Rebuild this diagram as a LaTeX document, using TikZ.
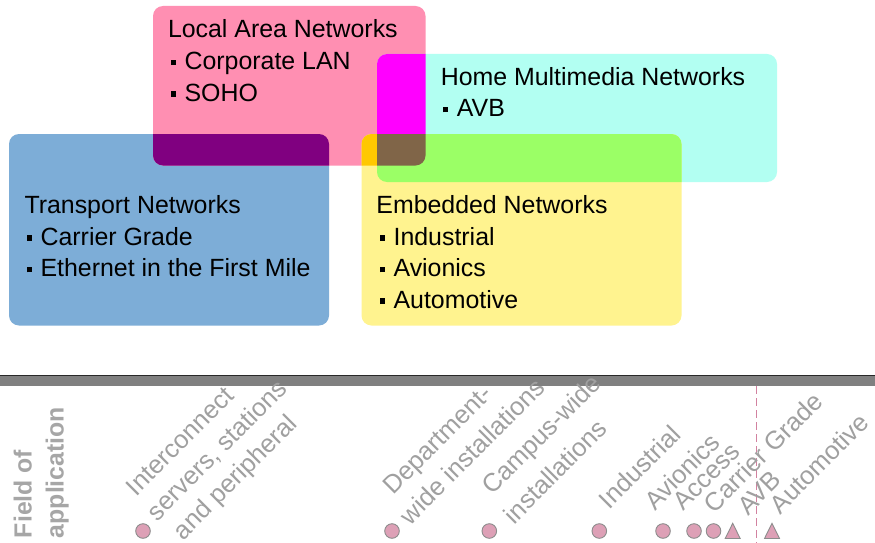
\documentclass[tikz,border=0pt]{standalone}
\usepackage{fontspec}
\setmainfont{Liberation Sans}
\definecolor{cpink}{RGB}{255,143,178}
\definecolor{cblue}{RGB}{125,173,215}
\definecolor{ccyan}{RGB}{178,255,242}
\definecolor{cyel}{RGB}{255,243,143}
\definecolor{cpur}{RGB}{128,0,128}
\definecolor{cmag}{RGB}{255,0,255}
\definecolor{cgold}{RGB}{255,200,0}
\definecolor{cgreen}{RGB}{155,255,102}
\definecolor{cbrown}{RGB}{128,101,72}
\definecolor{labgray}{RGB}{160,160,160}
\definecolor{fieldgray}{RGB}{166,166,166}
\definecolor{markfill}{RGB}{221,160,182}
\definecolor{markline}{RGB}{140,140,140}
\definecolor{dashpink}{RGB}{210,130,160}
\definecolor{bandgray}{RGB}{128,128,128}
\definecolor{bardark}{RGB}{40,40,40}
\newcommand{\bul}{\rule[4.3pt]{4.6pt}{5.6pt}\hspace{9pt}}
\begin{document}
\begin{tikzpicture}[x=1pt,y=1pt,
  box/.style={rectangle, rounded corners=10pt, inner sep=0pt, outer sep=0pt, draw=none},
  txt/.style={anchor=base west, inner sep=0pt, outer sep=0pt, font=\fontsize{24.9}{29}\selectfont, text=black},
  lab/.style={anchor=base west, inner sep=0pt, outer sep=0pt, rotate=45, font=\fontsize{25.5}{29}\selectfont, text=labgray},
  field/.style={anchor=base west, inner sep=0pt, outer sep=0pt, rotate=90, font=\fontsize{24.8}{29}\selectfont\bfseries, text=fieldgray},
  circmark/.style={circle, minimum size=14.6pt, inner sep=0pt, fill=markfill, draw=markline, line width=0.9pt},
  trimark/.style={fill=markfill, draw=markline, line width=0.9pt, line join=miter}
]
\useasboundingbox (0,0) rectangle (875,-543);
\fill[white] (0,0) rectangle (875,-543);

% base boxes
\node[box, fill=cblue, minimum width=320pt, minimum height=191.5pt] (tra) at (169,-229.75) {};
\node[box, fill=cpink, minimum width=272.5pt, minimum height=159.5pt] (lan) at (289.25,-85.75) {};
\node[box, fill=ccyan, minimum width=400pt, minimum height=128pt] (hom) at (577,-118) {};
\node[box, fill=cyel, minimum width=320pt, minimum height=191.5pt] (emb) at (521.5,-229.75) {};

% overlaps
\begin{scope}
  \clip[rounded corners=10pt] (lan.south west) rectangle (lan.north east);
  \fill[cpur, rounded corners=10pt] (tra.south west) rectangle (tra.north east);
  \fill[cmag, rounded corners=10pt] (hom.south west) rectangle (hom.north east);
  \fill[cgold, rounded corners=10pt] (emb.south west) rectangle (emb.north east);
\end{scope}
\begin{scope}
  \clip[rounded corners=10pt] (hom.south west) rectangle (hom.north east);
  \fill[cgreen, rounded corners=10pt] (emb.south west) rectangle (emb.north east);
  \clip[rounded corners=10pt] (emb.south west) rectangle (emb.north east);
  \fill[cbrown, rounded corners=10pt] (lan.south west) rectangle (lan.north east);
\end{scope}

% box texts
\node[txt] (lant) at (168,-37.3) {Local Area Networks};
\node[txt] (lan1) at (171,-69.5) {\bul Corporate LAN};
\node[txt] (lan2) at (171,-101) {\bul SOHO};

\node[txt] (homt) at (440.8,-85) {Home Multimedia Networks};
\node[txt] (hom1) at (443.3,-116.7) {\bul AVB};

\node[txt] (trat) at (24.5,-213.3) {Transport Networks};
\node[txt] (tra1) at (27,-245) {\bul Carrier Grade};
\node[txt] (tra2) at (27,-276.7) {\bul Ethernet in the First Mile};

\node[txt] (embt) at (376.4,-213.3) {Embedded Networks};
\node[txt] (emb1) at (380,-245) {\bul Industrial};
\node[txt] (emb2) at (380,-276.7) {\bul Avionics};
\node[txt] (emb3) at (380,-308.3) {\bul Automotive};

% axis bar
\fill[bandgray] (0,-376.3) rectangle (875,-385.7);
\coordinate (barl) at (0,-375.6);
\coordinate (barr) at (875,-375.6);
\draw[bardark, line width=1.5pt] (barl) -- (barr);

% dashed separator
\coordinate (dtop) at (756.7,-386);
\coordinate (dbot) at (756.7,-543);
\draw[dashpink, line width=1pt, dash pattern=on 8pt off 4pt] (dtop) -- (dbot);

% field of application
\node[field] (fa1) at (31.7,-538) {Field of};
\node[field] (fa2) at (63.7,-538) {application};

% labels
\node[lab] (l1a) at (136,-497) {Interconnect};
\node[lab] (l1b) at (157.5,-522) {servers, stations};
\node[lab] (l1c) at (183,-541) {and peripheral};
\node[lab] (l2a) at (393,-495.5) {Department-};
\node[lab] (l2b) at (410,-526) {wide installations};
\node[lab] (l3a) at (492,-495.5) {Campus-wide};
\node[lab] (l3b) at (514,-525) {installations};
\node[lab] (l4) at (609,-510) {Industrial};
\node[lab] (l5) at (655,-511.5) {Avionics};
\node[lab] (l6) at (683.5,-511.5) {Access};
\node[lab] (l7) at (714,-514) {Carrier Grade};
\node[lab] (l8) at (748,-516.5) {AVB};
\node[lab] (l9) at (780,-515) {Automotive};

% markers
\node[circmark] (m1) at (143,-531) {};
\node[circmark] (m2) at (392,-531) {};
\node[circmark] (m3) at (489.3,-531) {};
\node[circmark] (m4) at (599.3,-531) {};
\node[circmark] (m5) at (663,-531) {};
\node[circmark] (m6) at (694,-531) {};
\node[circmark] (m7) at (713.5,-531) {};
\draw[trimark] (732.7,-523.3) -- (740.2,-538.5) -- (725.2,-538.5) -- cycle;
\draw[trimark] (772,-523.3) -- (779.5,-538.5) -- (764.5,-538.5) -- cycle;
\end{tikzpicture}
\end{document}
